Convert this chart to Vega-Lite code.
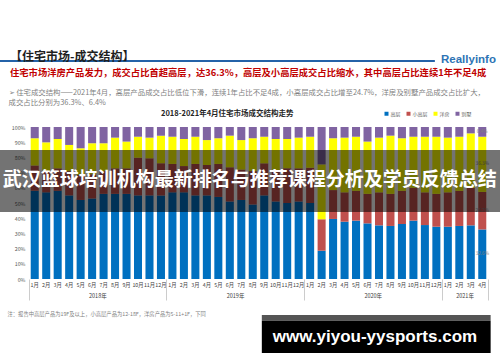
{
  "$schema": "https://vega.github.io/schema/vega-lite/v6.json",
  "width": 459,
  "height": 152,
  "autosize": {"type": "none"},
  "padding": {"left": 29, "top": 127, "right": 12, "bottom": 83},
  "background": "white",
  "config": {"view": {"stroke": null}, "font": "Noto Sans CJK SC"},
  "title": {
    "text": "【住宅市场-成交结构】",
    "subtitle": "住宅市场洋房产品发力，成交占比首超高层，达36.3%，高层及小高层成交占比缩水，其中高层占比连续1年不足4成",
    "anchor": "start",
    "frame": "group",
    "dx": -19,
    "offset": -26,
    "font": "Noto Sans CJK SC",
    "fontSize": 12,
    "fontWeight": "bold",
    "color": "#1f1f1f",
    "subtitleFont": "Noto Sans CJK SC",
    "subtitleFontSize": 9.3,
    "subtitleFontWeight": "bold",
    "subtitleColor": "#c00000",
    "subtitlePadding": 5,
    "limit": 1000
  },
  "datasets": {
    "months": [
      {"m": "2018-01", "高层": 0.58, "小高层": 0.166, "洋房": 0.18, "别墅": 0.074},
      {"m": "2018-02", "高层": 0.57, "小高层": 0.136, "洋房": 0.193, "别墅": 0.101},
      {"m": "2018-03", "高层": 0.58, "小高层": 0.148, "洋房": 0.193, "别墅": 0.079},
      {"m": "2018-04", "高层": 0.55, "小高层": 0.16, "洋房": 0.172, "别墅": 0.118},
      {"m": "2018-05", "高层": 0.52, "小高层": 0.164, "洋房": 0.176, "别墅": 0.14},
      {"m": "2018-06", "高层": 0.53, "小高层": 0.159, "洋房": 0.204, "别墅": 0.107},
      {"m": "2018-07", "高层": 0.56, "小高层": 0.15, "洋房": 0.183, "别墅": 0.107},
      {"m": "2018-08", "高层": 0.56, "小高层": 0.168, "洋房": 0.202, "别墅": 0.07},
      {"m": "2018-09", "高层": 0.56, "小高层": 0.168, "洋房": 0.176, "别墅": 0.096},
      {"m": "2018-10", "高层": 0.55, "小高层": 0.248, "洋房": 0.138, "别墅": 0.064},
      {"m": "2018-11", "高层": 0.55, "小高层": 0.244, "洋房": 0.136, "别墅": 0.07},
      {"m": "2018-12", "高层": 0.55, "小高层": 0.211, "洋房": 0.182, "别墅": 0.057},
      {"m": "2019-01", "高层": 0.57, "小高层": 0.187, "洋房": 0.179, "别墅": 0.064},
      {"m": "2019-02", "高层": 0.57, "小高层": 0.173, "洋房": 0.178, "别墅": 0.079},
      {"m": "2019-03", "高层": 0.55, "小高层": 0.207, "洋房": 0.179, "别墅": 0.064},
      {"m": "2019-04", "高层": 0.55, "小高层": 0.2, "洋房": 0.164, "别墅": 0.086},
      {"m": "2019-05", "高层": 0.54, "小高层": 0.217, "洋房": 0.169, "别墅": 0.074},
      {"m": "2019-06", "高层": 0.51, "小高层": 0.225, "洋房": 0.208, "别墅": 0.057},
      {"m": "2019-07", "高层": 0.52, "小高层": 0.2, "洋房": 0.194, "别墅": 0.086},
      {"m": "2019-08", "高层": 0.49, "小高层": 0.22, "洋房": 0.216, "别墅": 0.074},
      {"m": "2019-09", "高层": 0.55, "小高层": 0.211, "洋房": 0.175, "别墅": 0.064},
      {"m": "2019-10", "高层": 0.51, "小高层": 0.207, "洋房": 0.204, "别墅": 0.079},
      {"m": "2019-11", "高层": 0.5, "小高层": 0.228, "洋房": 0.193, "别墅": 0.079},
      {"m": "2019-12", "高层": 0.51, "小高层": 0.218, "洋房": 0.202, "别墅": 0.07},
      {"m": "2020-01", "高层": 0.5, "小高层": 0.232, "洋房": 0.204, "别墅": 0.064},
      {"m": "2020-02", "高层": 0.186, "小高层": 0.207, "洋房": 0.361, "别墅": 0.246},
      {"m": "2020-03", "高层": 0.395, "小高层": 0.19, "洋房": 0.341, "别墅": 0.074},
      {"m": "2020-04", "高层": 0.377, "小高层": 0.193, "洋房": 0.36, "别墅": 0.07},
      {"m": "2020-05", "高层": 0.384, "小高层": 0.196, "洋房": 0.356, "别墅": 0.064},
      {"m": "2020-06", "高层": 0.366, "小高层": 0.194, "洋房": 0.344, "别墅": 0.096},
      {"m": "2020-07", "高层": 0.353, "小高层": 0.217, "洋房": 0.36, "别墅": 0.07},
      {"m": "2020-08", "高层": 0.349, "小高层": 0.211, "洋房": 0.383, "别墅": 0.057},
      {"m": "2020-09", "高层": 0.362, "小高层": 0.218, "洋房": 0.346, "别墅": 0.074},
      {"m": "2020-10", "高层": 0.384, "小高层": 0.216, "洋房": 0.336, "别墅": 0.064},
      {"m": "2020-11", "高层": 0.355, "小高层": 0.215, "洋房": 0.366, "别墅": 0.064},
      {"m": "2020-12", "高层": 0.344, "小高层": 0.216, "洋房": 0.376, "别墅": 0.064},
      {"m": "2021-01", "高层": 0.344, "小高层": 0.226, "洋房": 0.36, "别墅": 0.07},
      {"m": "2021-02", "高层": 0.349, "小高层": 0.231, "洋房": 0.356, "别墅": 0.064},
      {"m": "2021-03", "高层": 0.353, "小高层": 0.247, "洋房": 0.358, "别墅": 0.042},
      {"m": "2021-04", "高层": 0.326, "小高层": 0.247, "洋房": 0.363, "别墅": 0.064}
    ],
    "overlay": [{"t": "武汉篮球培训机构最新排名与推荐课程分析及学员反馈总结"}],
    "site": [{"t": "www.yiyou-yysports.com"}],
    "blank": [{}]
  },
  "layer": [
    {
      "data": {"name": "months"},
      "transform": [
        {"fold": ["高层", "小高层", "洋房", "别墅"], "as": ["cat", "value"]},
        {"stack": "value", "groupby": ["m"], "as": ["y0", "y1"]}
      ],
      "mark": {"type": "bar", "width": {"band": 0.7}},
      "encoding": {
        "x": {
          "field": "m", "type": "ordinal",
          "scale": {"paddingInner": 0, "paddingOuter": 0},
          "axis": {
            "orient": "bottom", "title": null, "domain": false, "ticks": false, "grid": false,
            "labelAngle": 0, "labelExpr": "toNumber(slice(datum.value, 5)) + '月'",
            "labelFontSize": 5.3, "labelColor": "#404040", "labelPadding": 3,
            "labelOverlap": false, "labelBound": false, "labelFlush": false
          }
        },
        "y": {
          "field": "y1", "type": "quantitative",
          "scale": {"domain": [0, 1], "nice": false, "zero": false},
          "axis": {
            "orient": "left", "values": [0, 0.1, 0.2, 0.3, 0.4, 0.5, 0.6, 0.7, 0.8, 0.9, 1],
            "format": ".0%", "labelFontSize": 5.3, "labelColor": "#595959", "labelPadding": 4,
            "ticks": false, "domain": false, "grid": false,
            "title": ["➢ 住宅成交结构——2021年4月，高层产品成交占比低位下滑，连续1年占比不足4成，小高层成交占比增至24.7%，洋房及别墅产品成交占比扩大，", "\u3000 成交占比分别为36.3%、6.4%"],
            "titleAngle": 0, "titleAlign": "left", "titleBaseline": "top",
            "titleX": -21, "titleY": -39, "titleFontSize": 7.4, "titleFontWeight": "normal",
            "titleColor": "#7f7f7f", "titleLineHeight": 10.5, "titleLimit": 1000
          }
        },
        "y2": {"field": "y0"},
        "color": {
          "field": "cat", "type": "nominal",
          "scale": {"domain": ["高层", "小高层", "洋房", "别墅"], "range": ["#0070c0", "#c0504d", "#ffff00", "#8064a2"]},
          "legend": {
            "orient": "none", "legendX": 132, "legendY": -16, "direction": "horizontal",
            "title": "2018-2021年4月住宅市场成交结构走势", "titleOrient": "left",
            "titleFontSize": 7.5, "titleFontWeight": "bold", "titleColor": "#262626",
            "titlePadding": 90, "titleLimit": 400,
            "symbolType": "square", "symbolSize": 16, "symbolStrokeWidth": 0,
            "labelFontSize": 5, "labelColor": "#595959", "labelOffset": 1.5,
            "columnPadding": 5, "padding": 0
          }
        }
      }
    },
    {
      "data": {"name": "months"},
      "transform": [
        {"filter": "datum.m == '2021-04'"},
        {"fold": ["高层", "小高层", "洋房", "别墅"], "as": ["cat", "value"]},
        {"stack": "value", "groupby": ["m"], "as": ["y0", "y1"]},
        {"fold": ["y0", "y1"], "as": ["edge", "pos"]},
        {"aggregate": [{"op": "mean", "field": "pos", "as": "mid"}], "groupby": ["m", "cat", "value"]}
      ],
      "mark": {"type": "text", "fontSize": 4.7, "color": "#7f7f7f"},
      "encoding": {
        "x": {
          "field": "m", "type": "ordinal",
          "axis": {
            "orient": "bottom",
            "values": ["2018-01", "2018-06", "2018-12", "2019-06", "2019-12", "2020-06", "2020-12", "2021-02", "2021-04"],
            "bandPosition": 1, "tickExtra": true, "ticks": true, "tickSize": 21, "tickWidth": 0.8,
            "tickColor": {"condition": {"test": "!isValid(datum.value) || indexof(['2018-12','2019-12','2020-12','2021-04'], datum.value) >= 0", "value": "#bfbfbf"}, "value": "transparent"},
            "domain": false, "grid": false, "labelAngle": 0,
            "labelExpr": "indexof(['2018-06','2019-06','2020-06','2021-02'], datum.value) >= 0 ? slice(datum.value, 0, 4) + '年' : ''",
            "labelOffset": 5.74, "labelPadding": -7, "labelFontSize": 5.5, "labelColor": "#404040",
            "labelOverlap": false, "labelBound": false, "labelFlush": false,
            "title": "注：报告中高层产品为19F及以上，小高层产品为12-18F，洋房产品为5-11+1F，下同",
            "titleFontSize": 5.3, "titleFontWeight": "normal", "titleColor": "#7f7f7f",
            "titleAnchor": "start", "titleAlign": "left", "titleBaseline": "middle",
            "titleX": -22, "titleY": 34, "titleLimit": 1000
          }
        },
        "y": {
          "field": "mid", "type": "quantitative",
          "scale": {"domain": [0, 1], "nice": false, "zero": false},
          "axis": {
            "orient": "right", "labels": false, "ticks": false, "domain": false, "grid": false,
            "title": "Reallyinfo", "titleAngle": 0, "titleAlign": "center", "titleBaseline": "middle",
            "titleX": -20, "titleY": -68, "titleFont": "Liberation Sans", "titleFontSize": 11.5,
            "titleFontWeight": "bold", "titleColor": "#2e74b5"
          }
        },
        "text": {"field": "value", "type": "quantitative", "format": ".1%"}
      }
    },
    {
      "data": {"name": "blank"},
      "mark": {"type": "rect", "color": "#000000", "opacity": 0.55},
      "encoding": {
        "x": {"datum": "2018-01", "type": "ordinal", "bandPosition": -2.53, "axis": null},
        "x2": {"datum": "2021-04", "bandPosition": 2.05},
        "y": {"datum": 0.849, "type": "quantitative", "scale": {"domain": [0, 1], "nice": false, "zero": false}, "axis": null},
        "y2": {"datum": 0.441}
      }
    },
    {
      "data": {"name": "overlay"},
      "mark": {"type": "text", "color": "#ffffff", "fontSize": 19, "fontWeight": "bold", "font": "Noto Sans CJK SC", "align": "center", "baseline": "middle"},
      "encoding": {
        "x": {"datum": "2019-09", "type": "ordinal", "bandPosition": -0.77, "axis": null},
        "y": {"datum": 0.65, "type": "quantitative", "scale": {"domain": [0, 1], "nice": false, "zero": false}, "axis": null},
        "text": {"field": "t"}
      }
    },
    {
      "data": {"name": "blank"},
      "mark": {"type": "rule", "color": "#2462a8", "strokeWidth": 2},
      "encoding": {
        "x": {"datum": "2018-01", "type": "ordinal", "bandPosition": -2.53, "axis": null},
        "x2": {"datum": "2020-12", "bandPosition": 0.37},
        "y": {"datum": 1.434, "type": "quantitative", "scale": {"domain": [0, 1], "nice": false, "zero": false}, "axis": null}
      }
    },
    {
      "data": {"name": "blank"},
      "mark": {"type": "rect", "color": "#555555"},
      "encoding": {
        "x": {"datum": "2019-09", "type": "ordinal", "bandPosition": 0.29, "axis": null},
        "x2": {"datum": "2021-04", "bandPosition": 1.23},
        "y": {"datum": -0.237, "type": "quantitative", "scale": {"domain": [0, 1], "nice": false, "zero": false}, "axis": null},
        "y2": {"datum": -0.274}
      }
    },
    {
      "data": {"name": "blank"},
      "mark": {"type": "rect", "color": "#000000"},
      "encoding": {
        "x": {"datum": "2019-09", "type": "ordinal", "bandPosition": 0.29, "axis": null},
        "x2": {"datum": "2021-04", "bandPosition": 1.23},
        "y": {"datum": -0.274, "type": "quantitative", "scale": {"domain": [0, 1], "nice": false, "zero": false}, "axis": null},
        "y2": {"datum": -0.487}
      }
    },
    {
      "data": {"name": "site"},
      "mark": {"type": "text", "color": "#ffffff", "fontSize": 17, "fontWeight": "bold", "font": "Liberation Sans", "align": "center", "baseline": "middle"},
      "encoding": {
        "x": {"datum": "2020-07", "type": "ordinal", "bandPosition": 0.15, "axis": null},
        "y": {"datum": -0.38, "type": "quantitative", "scale": {"domain": [0, 1], "nice": false, "zero": false}, "axis": null},
        "text": {"field": "t"}
      }
    }
  ],
  "resolve": {"axis": {"x": "independent", "y": "independent"}}
}
